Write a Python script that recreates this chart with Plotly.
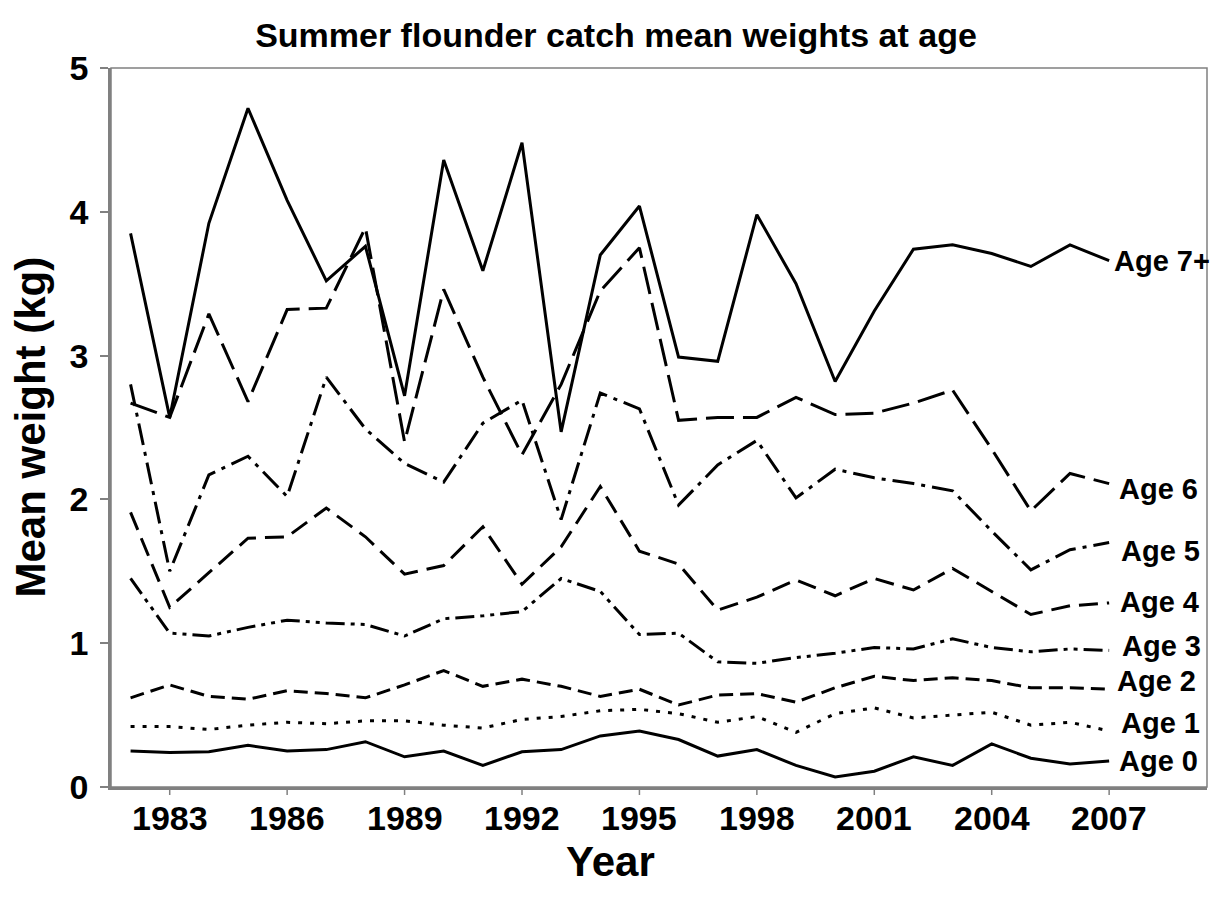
import plotly.graph_objects as go

years = list(range(1982, 2008))
age7 = [3.85, 2.57, 3.92, 4.72, 4.08, 3.52, 3.76, 2.72, 4.36, 3.59, 4.48, 2.47, 3.70, 4.04, 2.99, 2.96, 3.98, 3.50, 2.82, 3.31, 3.74, 3.77, 3.71, 3.62, 3.77, 3.66]
age6 = [2.67, 2.57, 3.29, 2.68, 3.32, 3.33, 3.89, 2.40, 3.46, 2.85, 2.31, 2.80, 3.45, 3.75, 2.55, 2.57, 2.57, 2.71, 2.59, 2.60, 2.67, 2.76, 2.35, 1.92, 2.18, 2.11]
age5 = [2.80, 1.50, 2.17, 2.30, 2.02, 2.85, 2.49, 2.25, 2.12, 2.53, 2.69, 1.86, 2.74, 2.63, 1.96, 2.24, 2.41, 2.01, 2.21, 2.15, 2.11, 2.06, 1.78, 1.51, 1.65, 1.70]
age4 = [1.91, 1.25, 1.49, 1.73, 1.74, 1.94, 1.74, 1.48, 1.54, 1.81, 1.41, 1.67, 2.09, 1.64, 1.55, 1.23, 1.32, 1.44, 1.33, 1.45, 1.37, 1.52, 1.36, 1.20, 1.26, 1.28]
age3 = [1.45, 1.07, 1.05, 1.11, 1.16, 1.14, 1.13, 1.05, 1.17, 1.19, 1.22, 1.45, 1.36, 1.06, 1.07, 0.87, 0.86, 0.90, 0.93, 0.97, 0.96, 1.03, 0.97, 0.94, 0.96, 0.95]
age2 = [0.62, 0.71, 0.63, 0.61, 0.67, 0.65, 0.62, 0.71, 0.81, 0.70, 0.75, 0.70, 0.63, 0.68, 0.57, 0.64, 0.65, 0.59, 0.69, 0.77, 0.74, 0.76, 0.74, 0.69, 0.69, 0.68]
age1 = [0.42, 0.42, 0.40, 0.43, 0.45, 0.44, 0.46, 0.46, 0.43, 0.41, 0.47, 0.49, 0.53, 0.54, 0.51, 0.45, 0.49, 0.38, 0.51, 0.55, 0.48, 0.50, 0.52, 0.43, 0.45, 0.39]
age0 = [0.25, 0.24, 0.245, 0.29, 0.25, 0.26, 0.315, 0.21, 0.25, 0.15, 0.245, 0.26, 0.355, 0.39, 0.33, 0.215, 0.26, 0.15, 0.07, 0.11, 0.21, 0.15, 0.30, 0.20, 0.16, 0.18]

series_names = ["Age 7+", "Age 6", "Age 5", "Age 4", "Age 3", "Age 2", "Age 1", "Age 0"]
series_values = [age7, age6, age5, age4, age3, age2, age1, age0]

x_tick_vals = [1983, 1986, 1989, 1992, 1995, 1998, 2001, 2004, 2007]
x_tick_text = ["1983", "1986", "1989", "1992", "1995", "1998", "2001", "2004", "2007"]
y_tick_vals = [0, 1, 2, 3, 4, 5]
y_tick_text = ["0", "1", "2", "3", "4", "5"]

# styles
dashes = ["solid", "28px,9px", "22px,7px,4px,7px", "19px,9px",
          "19px,6px,4px,6px,4px,6px", "14px,7px", "4px,8px", "solid"]
label_yshift = [0, -5, -8, 1, 4, 8, 8, 0]
label_xshift = [3, 8, 10, 9, 11, 6, 10, 8]

FONT = "Liberation Sans, Arial, sans-serif"
AXIS_GRAY = "#808080"
TICK_LEN = 8

# page body has an 8px default margin; the figure sits inside it
W, H = 1210, 903
ML, MR, MT, MB = 103, 11, 59.5, 124
pw = W - ML - MR
ph = H - MT - MB

fig = go.Figure()
for name, vals, dsh in zip(series_names, series_values, dashes):
    fig.add_trace(go.Scatter(x=years, y=vals, mode="lines", name=name,
                             line=dict(color="black", width=3, dash=dsh),
                             showlegend=False))

for name, vals, ys, xs in zip(series_names, series_values, label_yshift, label_xshift):
    fig.add_annotation(x=years[-1], y=vals[-1], text=name, showarrow=False,
                       xanchor="left", yanchor="middle", xshift=xs, yshift=ys,
                       font=dict(family=FONT, size=29, color="black", weight="bold"))

# x tick labels placed just below the tick marks
for tv, tt in zip(x_tick_vals, x_tick_text):
    fig.add_annotation(x=tv, y=0, xref="x", yref="y domain", text=tt, showarrow=False,
                       xanchor="center", yanchor="top", yshift=-10,
                       font=dict(family=FONT, size=34, color="black", weight="bold"))

# axis titles
fig.add_annotation(xref="x domain", yref="y domain",
                   x=(602 - ML) / pw, y=-(854 - (MT + ph)) / ph, text="Year", showarrow=False,
                   xanchor="center", yanchor="middle",
                   font=dict(family=FONT, size=42, color="black", weight="bold"))
fig.add_annotation(xref="x domain", yref="y domain",
                   x=(22 - ML) / pw, y=0.5, text="Mean weight (kg)",
                   textangle=-90, showarrow=False, xanchor="center", yanchor="middle",
                   font=dict(family=FONT, size=42, color="black", weight="bold"))

# plot-area border (top and right)
fig.add_shape(type="rect", xref="x domain", yref="y domain", x0=0, x1=1, y0=0, y1=1,
              line=dict(color=AXIS_GRAY, width=1.5), layer="below")

# x-axis tick marks (outside), drawn at the axis tick values
for tv in x_tick_vals:
    fig.add_shape(type="line", xref="x", yref="y domain", x0=tv, x1=tv,
                  y0=0, y1=-TICK_LEN / ph, line=dict(color=AXIS_GRAY, width=1.5))

fig.update_layout(
    width=W, height=H,
    margin=dict(l=ML, r=MR, t=MT, b=MB),
    paper_bgcolor="white", plot_bgcolor="white",
    title=dict(text="Summer flounder catch mean weights at age", x=608 / W, xref="container",
               y=1 - 27 / H, yref="container", xanchor="center", yanchor="middle",
               font=dict(family=FONT, size=34, color="black", weight="bold")),
    xaxis=dict(range=[1981.5, 2009.5], tickvals=x_tick_vals, ticktext=x_tick_text,
               showticklabels=False,
               showgrid=False, zeroline=False, showline=True, linecolor=AXIS_GRAY, linewidth=2.5,
               ticks=""),
    yaxis=dict(range=[0, 5], tickvals=y_tick_vals, ticktext=y_tick_text,
               showgrid=False, zeroline=False, showline=True, linecolor=AXIS_GRAY, linewidth=2.5,
               ticks="outside", ticklen=TICK_LEN, tickwidth=1.5, tickcolor=AXIS_GRAY,
               ticklabelstandoff=5,
               tickfont=dict(family=FONT, size=34, color="black", weight="bold")),
)

fig.write_html("out.html")
